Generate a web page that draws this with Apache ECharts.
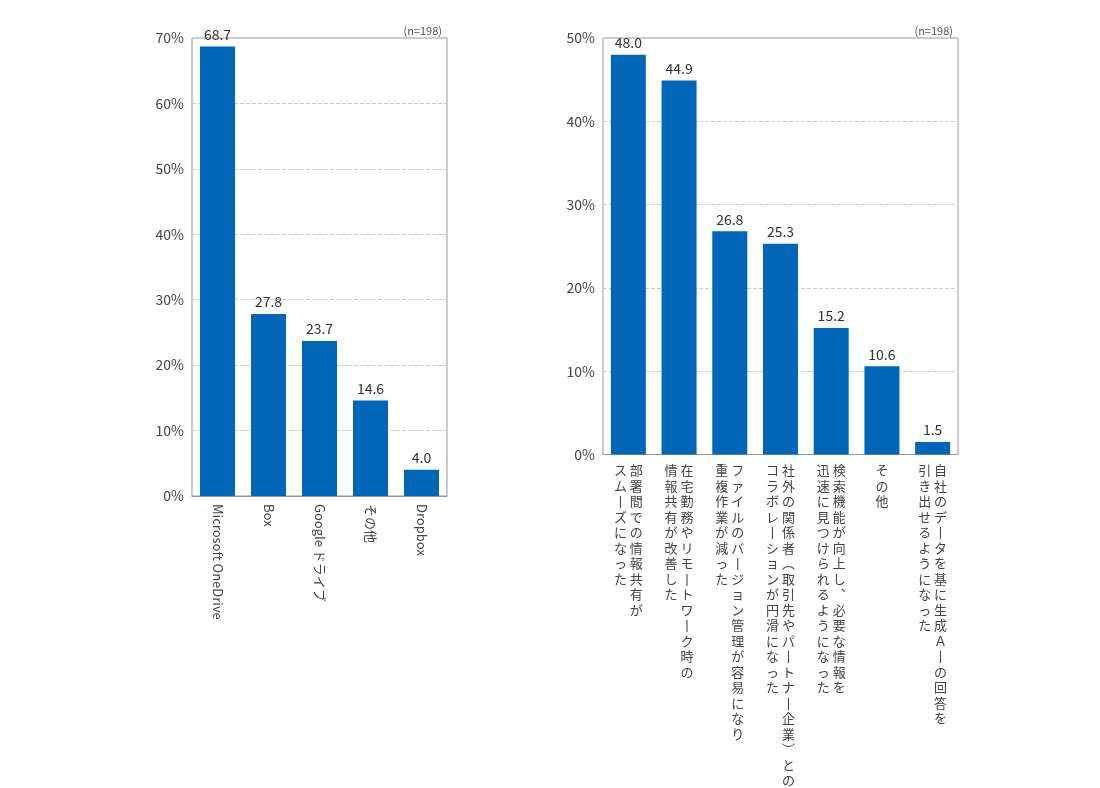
<!DOCTYPE html><html><head><meta charset="utf-8"><script src="https://cdn.jsdelivr.net/npm/echarts@6/dist/echarts.min.js"></script>
<style>body{margin:0;background:#fff}#c{width:1100px;height:788px}</style></head><body><div id="c"></div><script>
const leftCats=['Microsoft OneDrive','Box','Google ドライブ','その他','Dropbox'];
const leftVals=[68.7,27.8,23.7,14.6,4.0];
const rightCats=[['部署間での情報共有が','スムーズになった'],['在宅勤務やリモートワーク時の','情報共有が改善した'],['ファイルのバージョン管理が容易になり','重複作業が減った'],['社外の関係者（取引先やパートナー企業）との','コラボレーションが円滑になった'],['検索機能が向上し、必要な情報を','迅速に見つけられるようになった'],['その他'],['自社のデータを基に生成AIの回答を','引き出せるようになった']];
const rightVals=[48.0,44.9,26.8,25.3,15.2,10.6,1.5];
const vmap={'ー':'丨','（':'︵','）':'︶','、':'︑','A':'Ａ','I':'丨'};
function vert(cols){
  const cs=cols.map(s=>Array.from(s).map(c=>vmap[c]||c));
  const n=Math.max(...cs.map(a=>a.length));const out=[];
  for(let i=0;i<n;i++){let line='';for(let k=cs.length-1;k>=0;k--){line+=(cs[k][i]||'　');if(k>0)line+=' ';}out.push(line);}
  return out.join('\n');
}
const ff='"Noto Sans CJK JP", sans-serif';
const ax=(min,max,gi)=>({type:'value',gridIndex:gi,min:min,max:max,interval:10,axisLabel:{formatter:'{value}%',color:'#444',fontSize:14,fontFamily:ff},splitLine:{lineStyle:{type:'dashed',color:'#ccc'}},axisLine:{show:false},axisTick:{show:false}});
const ch=echarts.init(document.getElementById('c'));
ch.setOption({
 textStyle:{fontFamily:ff},
 title:[{text:'(n=198)',right:653,top:20,textStyle:{fontSize:11,fontWeight:'normal',color:'#555'}},{text:'(n=198)',right:142,top:20,textStyle:{fontSize:11,fontWeight:'normal',color:'#555'}}],
 grid:[{left:192,right:653,top:38,bottom:292,show:true,borderColor:'#999',containLabel:false},{left:603,right:142,top:38,bottom:296,show:true,borderColor:'#999'}],
 xAxis:[{type:'category',gridIndex:0,data:leftCats,axisTick:{show:false},axisLine:{lineStyle:{color:'#999'}},axisLabel:{rotate:-90,color:'#444',fontSize:13,margin:8}},
  {type:'category',gridIndex:1,data:rightCats.map(vert),axisTick:{show:false},axisLine:{lineStyle:{color:'#999'}},axisLabel:{interval:0,color:'#444',fontSize:13,lineHeight:15.5,verticalAlign:'top',align:'center',margin:8}}],
 yAxis:[ax(0,70,0),ax(0,50,1)],
 series:[{type:'bar',xAxisIndex:0,yAxisIndex:0,data:leftVals,barWidth:35,itemStyle:{color:'#0066b8'},label:{show:true,position:'top',color:'#333',fontSize:14,formatter:p=>p.value.toFixed(1)}},
  {type:'bar',xAxisIndex:1,yAxisIndex:1,data:rightVals,barWidth:35,itemStyle:{color:'#0066b8'},label:{show:true,position:'top',color:'#333',fontSize:14,formatter:p=>p.value.toFixed(1)}}]
});
</script></body></html>
